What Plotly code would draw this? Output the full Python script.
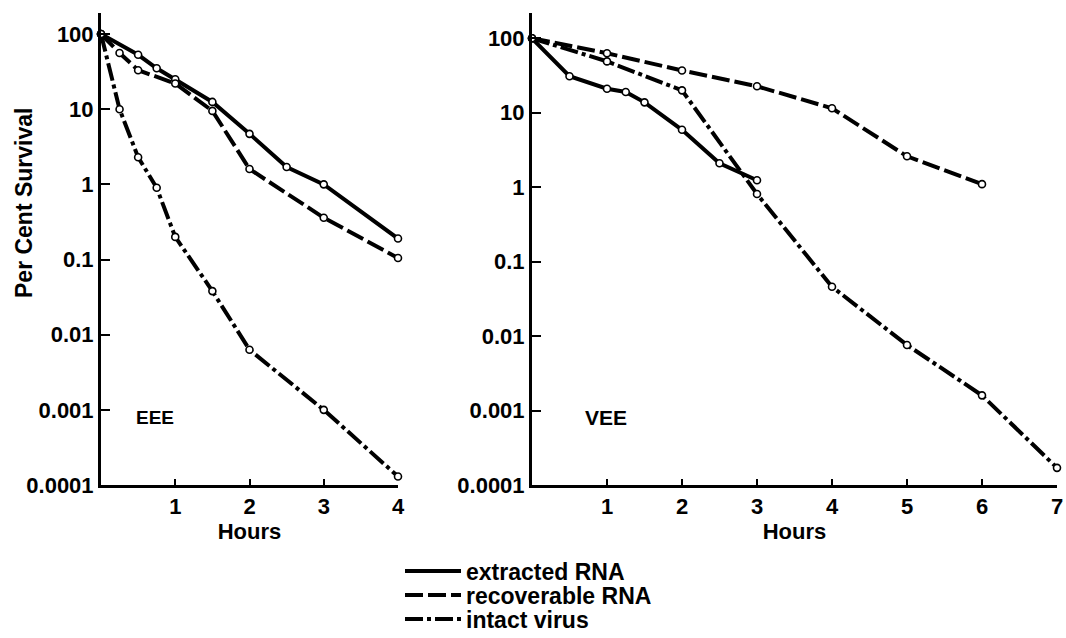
import plotly.graph_objects as go

# ---------------- data ----------------
# EEE panel
eee_extracted_x = [0, 0.5, 0.75, 1, 1.5, 2, 2.5, 3, 4]
eee_extracted_y = [100, 53, 35, 25, 12.5, 4.7, 1.7, 1.0, 0.19]
eee_recoverable_x = [0, 0.25, 0.5, 1, 1.5, 2, 3, 4]
eee_recoverable_y = [100, 56, 33, 22, 9.5, 1.6, 0.36, 0.105]
eee_intact_x = [0, 0.25, 0.5, 0.75, 1, 1.5, 2, 3, 4]
eee_intact_y = [100, 10, 2.3, 0.9, 0.2, 0.038, 0.0063, 0.001, 0.00013]

# VEE panel
vee_extracted_x = [0, 0.5, 1, 1.25, 1.5, 2, 2.5, 3]
vee_extracted_y = [100, 31, 21, 19, 13.8, 5.9, 2.1, 1.24]
vee_recoverable_x = [0, 1, 2, 3, 4, 5, 6]
vee_recoverable_y = [100, 63, 37, 22.7, 11.5, 2.6, 1.1]
vee_intact_x = [0, 1, 2, 3, 4, 5, 6, 7]
vee_intact_y = [100, 49, 20, 0.81, 0.046, 0.0076, 0.0016, 0.00017]

y_tickvals = [0.0001, 0.001, 0.01, 0.1, 1, 10, 100]
y_ticktext = ["0.0001", "0.001", "0.01", "0.1", "1", "10", "100"]
eee_xticks = [1, 2, 3, 4]
vee_xticks = [1, 2, 3, 4, 5, 6, 7]

series_names = ["extracted RNA", "recoverable RNA", "intact virus"]

# ---------------- styling ----------------
FONT = "Liberation Sans"
dashes = {
    "extracted RNA": "solid",
    "recoverable RNA": "18px,5px",
    "intact virus": "18px,4px,4px,4px",
}
LW = 4
marker = dict(symbol="circle", size=7, color="white",
              line=dict(color="black", width=1.6))

fig = go.Figure()


def add(x, y, name, xa, ya):
    fig.add_trace(go.Scatter(
        x=x, y=y, mode="lines+markers", name=name, showlegend=False,
        line=dict(color="black", width=LW, dash=dashes[name]),
        marker=marker, xaxis=xa, yaxis=ya, cliponaxis=False,
    ))


add(eee_extracted_x, eee_extracted_y, "extracted RNA", "x", "y")
add(eee_recoverable_x, eee_recoverable_y, "recoverable RNA", "x", "y")
add(eee_intact_x, eee_intact_y, "intact virus", "x", "y")
add(vee_extracted_x, vee_extracted_y, "extracted RNA", "x2", "y2")
add(vee_recoverable_x, vee_recoverable_y, "recoverable RNA", "x2", "y2")
add(vee_intact_x, vee_intact_y, "intact virus", "x2", "y2")

W, H = 1066, 638

# one legend per entry so the rows can sit as tightly as in the original
legend_keys = ["legend", "legend2", "legend3"]
legend_rows_px = [571, 595, 619]
legend_font = dict(family=FONT, size=23, color="black", weight="bold")
legend_layout = {}
for nm, key, row in zip(series_names, legend_keys, legend_rows_px):
    fig.add_trace(go.Scatter(
        x=[None], y=[None], mode="lines", name=nm, showlegend=True,
        legend=key,
        line=dict(color="black", width=LW, dash=dashes[nm]),
        xaxis="x", yaxis="y",
    ))
    legend_layout[key] = dict(x=400 / W, y=1 - row / H, xanchor="left",
                              yanchor="middle", font=legend_font,
                              itemwidth=56, bgcolor="rgba(0,0,0,0)")

ydom = [1 - 485 / H, 1 - 13 / H]

tickfont = dict(family=FONT, size=22, color="black", weight="bold")
common_x = dict(showline=True, linewidth=3, linecolor="black", showgrid=False,
                zeroline=False, ticks="inside", ticklen=6, tickwidth=2,
                tickcolor="black", tickfont=tickfont,
                ticklabeloverflow="allow")
common_y = dict(type="log", showline=True, linewidth=3, linecolor="black",
                showgrid=False, zeroline=False, ticks="inside", ticklen=9,
                tickwidth=2, tickcolor="black", tickfont=tickfont,
                tickvals=y_tickvals, ticktext=y_ticktext)

title_font = dict(family=FONT, size=22, color="black", weight="bold")

fig.update_layout(
    width=W, height=H,
    margin=dict(l=0, r=0, t=0, b=0, autoexpand=False),
    paper_bgcolor="white", plot_bgcolor="white",
    xaxis=dict(domain=[101 / W, 398 / W], range=[0, 4], anchor="y",
               tickvals=eee_xticks,
               title=dict(text="Hours", font=title_font, standoff=6),
               **common_x),
    yaxis=dict(domain=ydom, range=[-4, 2.28], anchor="x", **common_y),
    xaxis2=dict(domain=[532 / W, 1057 / W], range=[0, 7], anchor="y2",
                tickvals=vee_xticks,
                title=dict(text="Hours", font=title_font, standoff=6),
                **common_x),
    yaxis2=dict(domain=ydom, range=[-4, 2.34], anchor="x2", **common_y),
    showlegend=True,
    annotations=[
        dict(text="Per Cent Survival", xref="paper", yref="paper",
             x=24 / W, y=1 - 203 / H, xanchor="center", yanchor="middle",
             textangle=-90, showarrow=False,
             font=dict(family=FONT, size=23, color="black", weight="bold")),
        dict(text="EEE", xref="x", yref="y", x=0.73, y=-3.1,
             showarrow=False,
             font=dict(family=FONT, size=19, color="black", weight="bold")),
        dict(text="VEE", xref="x2", yref="y2", x=0.99, y=-3.09,
             showarrow=False,
             font=dict(family=FONT, size=21, color="black", weight="bold")),
    ],
    **legend_layout,
)

fig.write_html("out.html",
               config={"displayModeBar": False},
               post_script="document.body.style.margin='0px';")
